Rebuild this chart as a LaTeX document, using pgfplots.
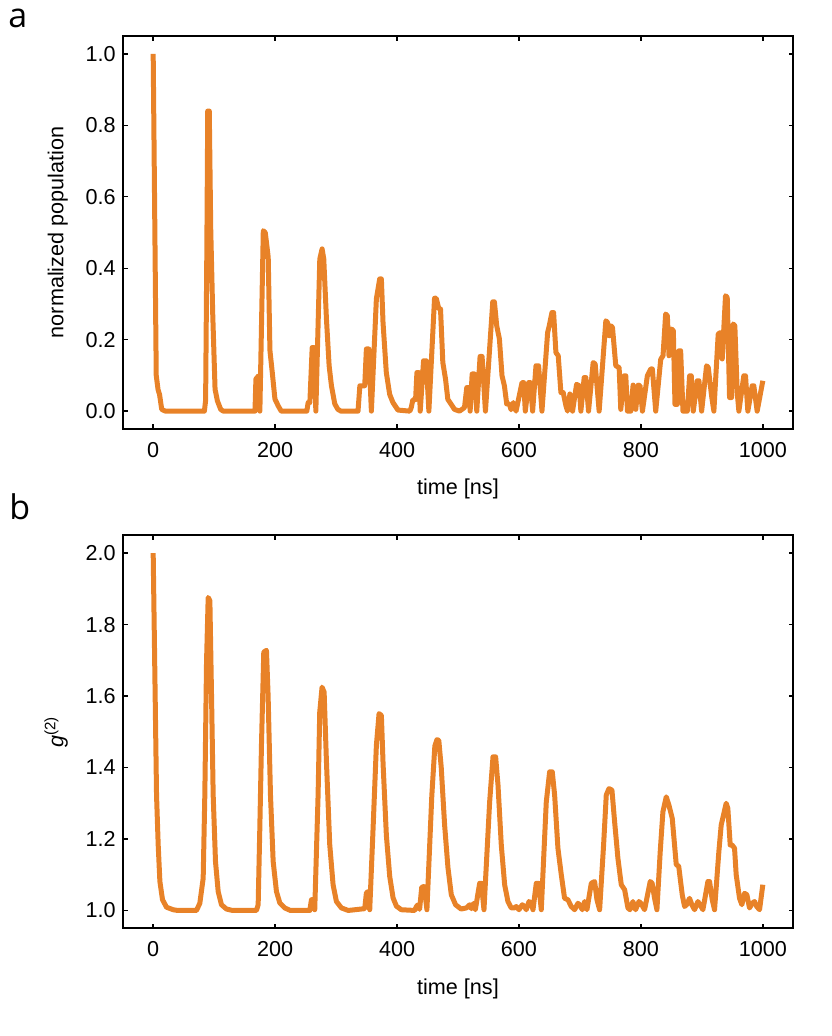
\documentclass[border=0pt]{standalone}
\usepackage{fontspec}
\setmainfont{Liberation Sans}
\newfontfamily\panelfont{Open Sans}
\usepackage{pgfplots}
\pgfplotsset{compat=1.18}
\definecolor{lineorange}{RGB}{232,130,40}

\pgfplotsset{
 myaxis/.style={
  width=335.3pt, height=196.5pt, scale only axis,
  xmin=-50, xmax=1050,
  xtick={0,200,400,600,800,1000},
  tick align=inside,
  major tick length=2.4pt,
  every tick/.style={black, line width=0.7pt},
  axis line style={line width=1pt},
  /pgf/number format/assume math mode=true,
  /pgf/number format/1000 sep={},
  yticklabel style={/pgf/number format/fixed, /pgf/number format/fixed zerofill, /pgf/number format/precision=1},
  xticklabel style={yshift=-3pt},
  tick label style={font=\fontsize{10.8}{12}\selectfont},
  label style={font=\fontsize{10.8}{12}\selectfont},
  xlabel style={yshift=-4pt},
  ylabel style={yshift=2pt},
  xlabel={time [ns]},
 }
}

\begin{document}
\begin{tikzpicture}
\path[use as bounding box] (0,0) rectangle (415.5pt,-518pt);

\begin{axis}[myaxis, at={(61.35pt,-214.5pt)}, anchor=south west,
  ymin=-0.05, ymax=1.05, ytick={0,0.2,0.4,0.6,0.8,1.0},
  ylabel={normalized population}]
\addplot[color=lineorange, line width=2.5pt, line join=round, no markers] coordinates {
(0,1.0) (5,0.10) (8,0.06) (10.4,0.047) (14,0.005) (20,0) (84,0) (86,0.03) (88,0.45) (89.5,0.84) (92,0.84)
(94.4,0.51) (97.6,0.276) (101.5,0.061) (105.3,0.029) (110.7,0.005) (115,0) (167,0) (168.5,0.09) (173,0.099)
(175,0) (180.6,0.505) (183.8,0.50) (186,0.47) (188.7,0.43) (191.5,0.17) (195.9,0.099) (199.7,0.034) (205,0.015)
(210,0) (252,0) (254.2,0.024) (257,0.024) (260.8,0.178) (264,0.178) (266.8,0) (273.3,0.426) (277.1,0.454)
(279.8,0.426) (284.2,0.258) (288.6,0.127) (292.4,0.071) (297.9,0.02) (303,0.005) (308,0) (336,0) (339,0.071)
(347,0.071) (349.7,0.174) (353.6,0.174) (357.9,0) (366.1,0.314) (371.5,0.37) (374.3,0.37) (377,0.248)
(382.4,0.108) (387.9,0.047) (393.3,0.024) (401.5,0.003) (421,0) (423.3,0.01) (426,0.032) (430.4,0.032)
(432.6,0.108) (435.9,0.108) (438,0) (443.5,0.141) (447.9,0.141) (452.2,0) (461.5,0.316) (464.2,0.316)
(468.6,0.286) (471.3,0.286) (475.1,0.136) (479.5,0.09) (483.3,0.033) (488.8,0.019) (494.2,0.005) (502.4,0)
(510.6,0.01) (514.4,0.066) (517.7,0.066) (519.9,0) (523.2,0.104) (527,0.104) (530.8,0) (536.2,0.153)
(539.5,0.153) (545,0) (557,0.306) (559.7,0.306) (563.5,0.239) (567.9,0.202) (572.2,0.099) (576.1,0.071)
(579.9,0.02) (584.2,0.02) (587,0.004) (590.8,0.024) (595.2,0) (605,0.08) (607.7,0.08) (610.4,0) (615.9,0.08)
(618.6,0.08) (622.4,0) (627.9,0.127) (632.2,0.127) (637.7,0) (647,0.22) (649.7,0.239) (654.1,0.276)
(656.8,0.276) (660.6,0.164) (664.4,0.155) (668.8,0.052) (672.6,0.052) (677,0.015) (679.7,0) (683.5,0.048)
(687.9,0) (694.5,0.075) (698.8,0.071) (701.5,0) (707,0.094) (709.7,0.094) (714.1,0) (721.7,0.136) (725,0.132)
(731.5,0) (742.5,0.253) (745.2,0.248) (748,0.211) (750.6,0.239) (753.4,0.234) (758.8,0.127) (764.3,0.122)
(767,0.005) (772.5,0.099) (775.2,0.099) (778,0) (783.4,0) (787.2,0.073) (791.6,0.005) (795.4,0.073)
(798.6,0.071) (802.5,0) (810.6,0.099) (816.1,0.118) (818.8,0.118) (824.3,0) (832.5,0.145) (836.3,0.155)
(840.6,0.272) (843.4,0.267) (846.1,0.155) (850.5,0.23) (853.2,0.225) (855.9,0.019) (859.7,0.019) (862.5,0.169)
(865.2,0.169) (869,0) (876.1,0) (879.9,0.099) (882.6,0.099) (885.9,0) (892.5,0.085) (895.2,0.085) (899.6,0)
(907.7,0.127) (910.5,0.122) (915.9,0.043) (919.7,0) (926.8,0.216) (930.6,0.22) (933.4,0.146) (938.8,0.323)
(941.6,0.318) (945.4,0.038) (948.7,0.038) (951.4,0.244) (954.1,0.239) (958,0.052) (960.7,0) (968.8,0.099)
(971.6,0.099) (975.4,0) (982.5,0.071) (985.2,0.071) (990.7,0) (1000,0.085)
};
\end{axis}

\begin{axis}[myaxis, at={(61.35pt,-464.15pt)}, anchor=south west,
  ymin=0.95, ymax=2.05, ytick={1.0,1.2,1.4,1.6,1.8,2.0},
  ylabel={\textit{g}\textsuperscript{(2)}}]
\addplot[color=lineorange, line width=2.5pt, line join=round, no markers] coordinates {
(0,2.0) (5.5,1.323) (8.2,1.184) (11,1.081) (15.3,1.03) (21.9,1.009) (32.8,1.002) (40,1.0) (71,1.0) (76.5,1.02)
(82,1.09) (84.7,1.323) (87.5,1.695) (90.2,1.876) (93,1.867) (95.7,1.602) (98.4,1.323) (102.2,1.137) (106.6,1.053)
(112,1.016) (120.2,1.004) (130,1.0) (169.4,1.0) (172.2,1.016) (174.9,1.23) (177.6,1.462) (181.4,1.723)
(185.8,1.728) (188.5,1.602) (192.4,1.323) (196.8,1.137) (202.2,1.053) (207.7,1.021) (215.9,1.007) (225,1.0)
(256.9,1.0) (259.6,1.03) (262.3,1.03) (265,1.002) (270.5,1.323) (273.2,1.555) (277,1.625) (280.4,1.611)
(284.2,1.416) (289.6,1.184) (295.1,1.072) (300.6,1.025) (308.8,1.007) (320,1.0) (347,1.005) (349.7,1.049)
(352.5,1.053) (355.2,1.002) (360.7,1.23) (366.1,1.462) (370.5,1.551) (374.3,1.546) (377.1,1.41) (382.5,1.21)
(388,1.095) (393.5,1.035) (399,1.012) (407,1.002) (429,1.0) (431.7,1.011) (434.4,1.016) (437,1.003)
(440.5,1.065) (444.5,1.067) (449,1.002) (457,1.32) (462,1.46) (465.5,1.478) (468.5,1.476) (472.5,1.40)
(478,1.24) (483.5,1.12) (489,1.044) (496,1.016) (505,1.004) (513.7,1.007) (519.1,1.016) (522,1.005)
(525.7,1.02) (528.4,1.002) (535.5,1.076) (538.3,1.076) (542.6,1.002) (551.9,1.304) (557.4,1.43) (561.7,1.43)
(565.6,1.351) (571,1.183) (576.5,1.072) (581.9,1.025) (587.4,1.007) (592,1.007) (595.6,1.011) (600,1.002)
(605.5,1.016) (609,1.011) (612,1.002) (616.4,1.025) (620,1.02) (623,1.002) (628.4,1.076) (632.2,1.076)
(636.6,1.002) (644.8,1.304) (650.3,1.388) (654.6,1.388) (658.5,1.323) (663.9,1.174) (669.4,1.1) (674.8,1.034)
(680.3,1.03) (685.8,1.011) (691.2,1.002) (696.7,1.02) (699.5,1.016) (703.9,1.002) (707.7,1.025) (711.5,1.002)
(718.6,1.076) (724.1,1.081) (727.9,1.03) (732.3,1.002) (738.8,1.183) (743.2,1.323) (747.6,1.341) (752.5,1.337)
(756.9,1.248) (762.3,1.146) (767.8,1.072) (773.3,1.058) (778.7,1.007) (782,1.002) (786.9,1.025) (791.3,1.002)
(796.8,1.025) (800,1.02) (806,1.002) (815.3,1.081) (818.5,1.076) (822.4,1.034) (826.3,1.002) (831.7,1.165)
(836.1,1.276) (841.6,1.318) (845.9,1.295) (851.4,1.258) (858,1.128) (862,1.124) (867.8,1.044) (871.6,1.011)
(875,1.016) (879.8,1.034) (883.6,1.016) (888,1.002) (893.5,1.025) (897,1.016) (901.7,1.002) (909.9,1.081)
(912.6,1.081) (917,1.03) (920.8,1.002) (927.9,1.165) (931.7,1.239) (935.5,1.267) (939.9,1.3) (942.6,1.286)
(946.5,1.183) (949.7,1.183) (953.6,1.174) (956.3,1.1) (961.8,1.034) (965.6,1.016) (970,1.048) (973.8,1.044)
(978.2,1.007) (982.5,1.02) (986.4,1.025) (990,1.011) (994.6,1.002) (1000,1.072)
};
\end{axis}

\node[anchor=base west, inner sep=0pt, font=\panelfont\fontsize{17}{20}\selectfont] at (4pt,-14pt) {a};
\node[anchor=base west, inner sep=0pt, font=\panelfont\fontsize{17}{20}\selectfont] at (4.5pt,-259.5pt) {b};
\end{tikzpicture}
\end{document}
